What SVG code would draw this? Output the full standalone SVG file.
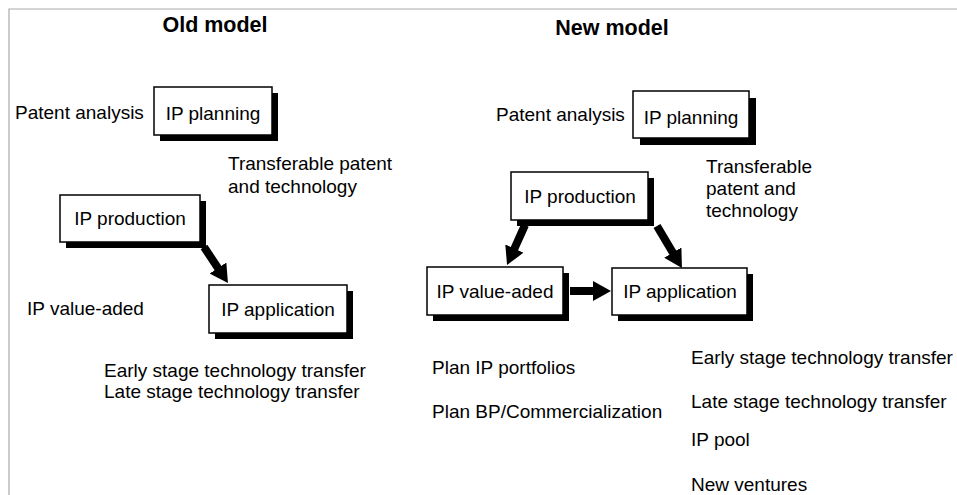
<svg xmlns="http://www.w3.org/2000/svg" width="957" height="495" viewBox="0 0 957 495">
<defs>
<style>
text{font-family:"Liberation Sans",Arial,Helvetica,sans-serif;font-size:19px;fill:#000}
.title{font-weight:bold;font-size:21.5px;text-anchor:middle}
.lbl{text-anchor:middle}
.box{fill:#fff;stroke:#000;stroke-width:1.5}
.shadow{fill:#000}
.arr{stroke:#000;stroke-width:8;fill:none}
.frame{stroke:#aaa;stroke-width:1.2;fill:none}
</style>
<marker id="head" markerUnits="userSpaceOnUse" markerWidth="18" markerHeight="20" refX="2" refY="10" orient="auto">
<path d="M0,0 L18,10 L0,20 z" fill="#000"/>
</marker>
</defs>
<rect width="957" height="495" fill="#fff"/>
<path class="frame" d="M9,495 V9 H957"/>

<g id="old-model">
<text class="title" x="215" y="32">Old model</text>
<text x="15" y="119">Patent analysis</text>
<text x="228" y="170">Transferable patent</text>
<text x="228" y="193">and technology</text>
<text x="27" y="315">IP value-aded</text>
<text x="104" y="377">Early stage technology transfer</text>
<text x="104" y="398">Late stage technology transfer</text>
</g>

<g id="old-ip-planning">
<rect class="shadow" x="160" y="93" width="118" height="48"/>
<rect class="box" x="154" y="87" width="118" height="48"/>
<text class="lbl" x="213" y="120">IP planning</text>
</g>
<g id="old-ip-production">
<rect class="shadow" x="66" y="201" width="140" height="47"/>
<rect class="box" x="60" y="195" width="140" height="47"/>
<text class="lbl" x="130" y="225">IP production</text>
</g>
<g id="old-ip-application">
<rect class="shadow" x="215" y="291" width="138" height="48"/>
<rect class="box" x="209" y="285" width="138" height="48"/>
<text class="lbl" x="278" y="316">IP application</text>
</g>

<g id="new-model">
<text class="title" x="612" y="35">New model</text>
<text x="496" y="121">Patent analysis</text>
<text x="706" y="173">Transferable</text>
<text x="706" y="195">patent and</text>
<text x="706" y="217">technology</text>
<text x="432" y="374">Plan IP portfolios</text>
<text x="432" y="418">Plan BP/Commercialization</text>
<text x="691" y="364">Early stage technology transfer</text>
<text x="691" y="408">Late stage technology transfer</text>
<text x="691" y="446">IP pool</text>
<text x="691" y="491">New ventures</text>
</g>

<g id="new-ip-planning">
<rect class="shadow" x="640" y="98" width="116" height="47"/>
<rect class="box" x="633" y="91" width="116" height="47"/>
<text class="lbl" x="691" y="124">IP planning</text>
</g>
<g id="new-ip-production">
<rect class="shadow" x="517" y="178" width="137" height="48"/>
<rect class="box" x="511" y="172" width="137" height="48"/>
<text class="lbl" x="580" y="203">IP production</text>
</g>
<g id="new-ip-value-aded">
<rect class="shadow" x="433" y="273" width="136" height="48"/>
<rect class="box" x="427" y="267" width="136" height="48"/>
<text class="lbl" x="495" y="298">IP value-aded</text>
</g>
<g id="new-ip-application">
<rect class="shadow" x="618" y="274" width="135" height="47"/>
<rect class="box" x="612" y="268" width="135" height="47"/>
<text class="lbl" x="680" y="298">IP application</text>
</g>

<g id="connectors">
<line class="arr" x1="204" y1="247" x2="219.1" y2="269.7" marker-end="url(#head)"/>
<line class="arr" x1="525" y1="225" x2="513.6" y2="250.4" marker-end="url(#head)"/>
<line class="arr" x1="657" y1="226" x2="673.8" y2="254.3" marker-end="url(#head)"/>
<line class="arr" x1="570" y1="291" x2="595" y2="291" marker-end="url(#head)"/>
</g>
</svg>
